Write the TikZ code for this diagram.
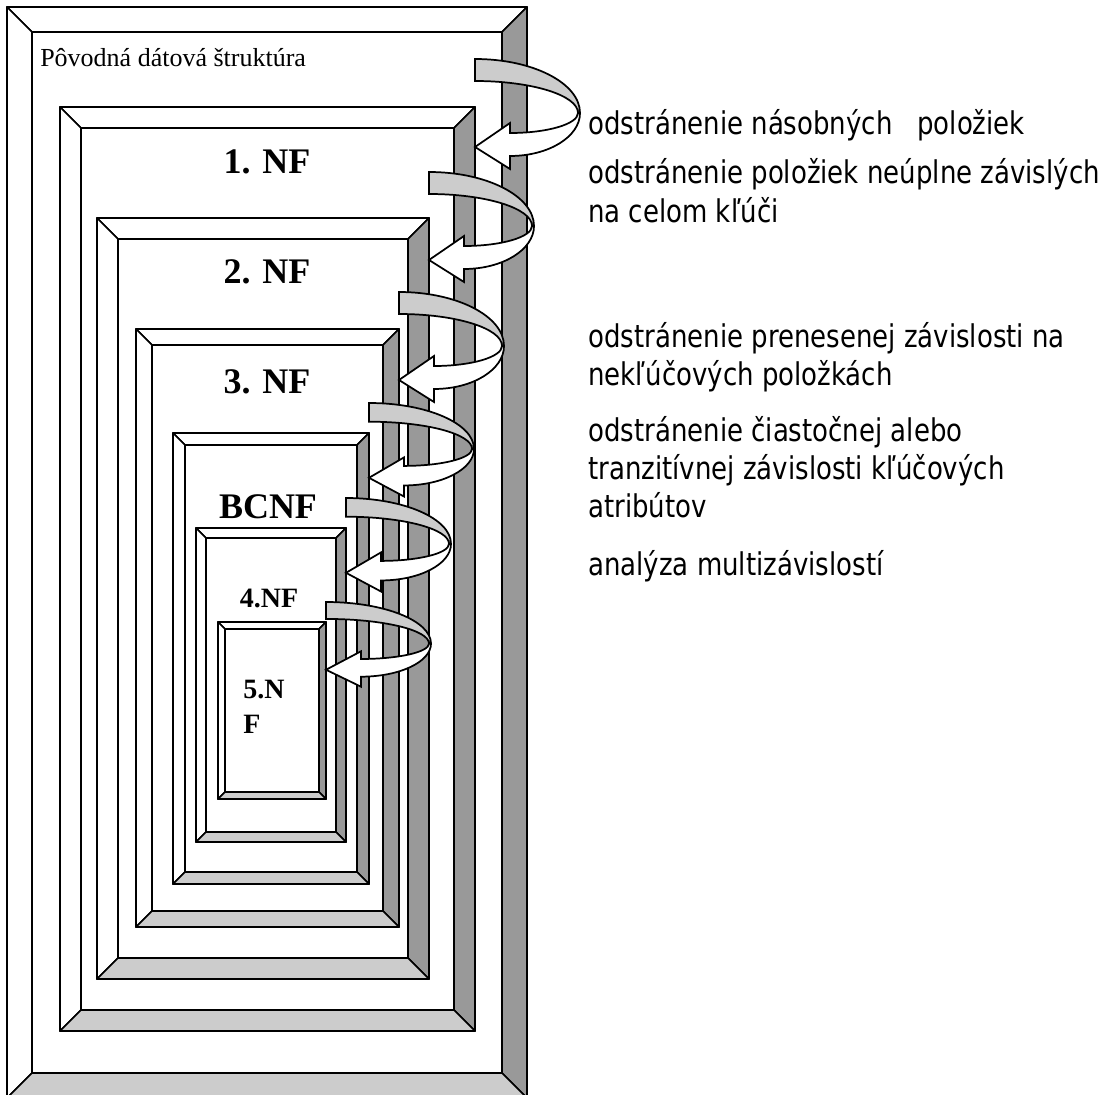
\documentclass[tikz,border=0pt]{standalone}
\usepackage{fontspec}
\setmainfont{Liberation Serif}
\newfontfamily\tah[FakeStretch=0.83]{DejaVu Sans}
\definecolor{dk}{HTML}{999999}
\definecolor{lt}{HTML}{CCCCCC}
\tikzset{
  face/.style={draw=black, line width=1.3pt, line join=round},
  rib/.style={draw=black, line width=1.3pt, line join=miter, miter limit=4},
  nf/.style={font=\fontsize{27}{30}\selectfont\bfseries, inner sep=0pt},
  nfs/.style={font=\fontsize{21}{26}\selectfont\bfseries, inner sep=0pt},
  orig/.style={font=\fontsize{19.5}{23}\selectfont, inner sep=0pt, anchor=base west},
  desc/.style={font=\tah\fontsize{23.5}{28.5}\selectfont, inner sep=0pt, anchor=base west},
}
\newcommand\bevframe[5]{%
  \pgfmathsetmacro\xa{#1+#5}\pgfmathsetmacro\ya{#2+#5}%
  \pgfmathsetmacro\xb{#3-#5}\pgfmathsetmacro\yb{#4-#5}%
  \path[face, fill=white] (#1,#2) -- (#3,#2) -- (\xb,\ya) -- (\xa,\ya) -- cycle;
  \path[face, fill=white] (#1,#2) -- (\xa,\ya) -- (\xa,\yb) -- (#1,#4) -- cycle;
  \path[face, fill=dk] (#3,#2) -- (#3,#4) -- (\xb,\yb) -- (\xb,\ya) -- cycle;
  \path[face, fill=lt] (#1,#4) -- (#3,#4) -- (\xb,\yb) -- (\xa,\yb) -- cycle;
  \path[face, fill=white] (\xa,\ya) rectangle (\xb,\yb);
}
\newcommand\spiral[3]{%
  \begin{scope}[shift={(#1,#2)}, yscale=#3]
    \path[rib, fill=lt] (0,0) -- (0,22) .. controls (56.9,22) and (103,36.3) .. (103,54)
      -- (105,54) .. controls (105,24.2) and (58,0) .. (0,0) -- cycle;
    \path[rib, fill=white] (105,54) .. controls (105,77.7) and (73.7,97) .. (35,97)
      -- (35,110) -- (0,88) -- (35,64) -- (35,74)
      .. controls (72.6,74) and (103,65) .. (103,54) -- cycle;
  \end{scope}
}
\begin{document}
\begin{tikzpicture}[x=0.75pt, y=-0.75pt]
\useasboundingbox (0,0) rectangle (1117,1095);
\clip (0,0) rectangle (1117,1095);
\fill[white] (0,0) rectangle (1117,1095);
% nested bevelled frames
\bevframe{7}{7}{527}{1098}{25}
\bevframe{60}{107}{475}{1031}{21}
\bevframe{97}{218}{429}{979}{21}
\bevframe{136}{329}{399}{927}{16}
\bevframe{173}{433}{369}{884}{12}
\bevframe{196}{528}{346}{842}{10}
\bevframe{218}{622}{326}{799}{7}
% labels inside frames
\node[orig] (pds) at (40,67) {Pôvodná dátová štruktúra};
\node[nf] (nf1) at (267,162) {1. NF};
\node[nf] (nf2) at (267,272) {2. NF};
\node[nf] (nf3) at (267,382) {3. NF};
\node[nf] (bcnf) at (268,507) {BCNF};
\node[nfs] (nf4) at (269,598) {4.NF};
\node[nfs, anchor=base west] (nf5a) at (243,698) {5.N};
\node[nfs, anchor=base west] (nf5b) at (243,733) {F};
% spiral arrows
\spiral{475}{59}{1}
\spiral{429}{172}{1}
\spiral{399}{292}{1}
\spiral{369}{403}{0.85}
\spiral{346}{498}{0.85}
\spiral{326}{602}{0.77}
% descriptions
\node[desc] (d1) at (588,135) {odstránenie násobných~~~položiek};
\node[desc] (d2a) at (588,184) {odstránenie položiek neúplne závislých};
\node[desc] (d2b) at (588,222) {na celom kľúči};
\node[desc] (d3a) at (588,347) {odstránenie prenesenej závislosti na};
\node[desc] (d3b) at (588,385) {nekľúčových položkách};
\node[desc] (d4a) at (588,441) {odstránenie čiastočnej alebo};
\node[desc] (d4b) at (588,479) {tranzitívnej závislosti kľúčových};
\node[desc] (d4c) at (588,517) {atribútov};
\node[desc] (d5) at (588,575) {analýza multizávislostí};
\end{tikzpicture}
\end{document}
